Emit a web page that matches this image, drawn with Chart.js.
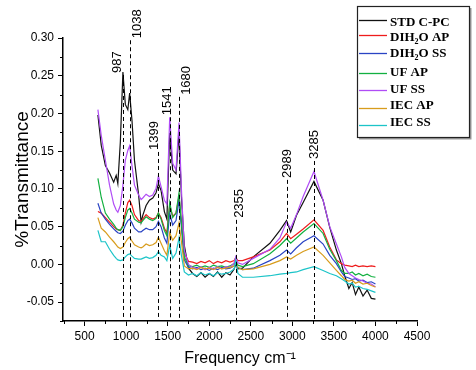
<!DOCTYPE html>
<html>
<head>
<meta charset="utf-8">
<script src="https://cdn.jsdelivr.net/npm/chart.js@4.4.1/dist/chart.umd.min.js"></script>
<style>
    html, body { margin: 0; padding: 0; background: #ffffff; }
    #wrap { width: 476px; height: 370px; }
</style>
</head>
<body>
<div id="wrap"><canvas id="ftirChart" width="476" height="370"></canvas></div>
<script>
// Wavenumber grid (cm-1), shared by every spectrum
const wavenumbers = [660, 700, 750, 800, 850, 880, 900, 930, 961, 990,
    1020, 1042, 1070, 1100, 1150, 1180, 1200, 1240, 1280, 1320,
    1360, 1388, 1420, 1460, 1490, 1524, 1560, 1600, 1636, 1665,
    1700, 1750, 1800, 1850, 1900, 1950, 2000, 2050, 2100, 2150,
    2200, 2250, 2300, 2319, 2345, 2400, 2530, 2730, 2850, 2930,
    2980, 3050, 3130, 3260, 3370, 3450, 3530, 3590, 3630, 3680,
    3720, 3760, 3800, 3850, 3900, 3950, 4000];

// %Transmittance
const stdCPC = [0.198, 0.158, 0.131, 0.121, 0.109, 0.118, 0.107, 0.162, 0.255, 0.212,
    0.205, 0.227, 0.191, 0.138, 0.092, 0.056, 0.065, 0.078, 0.085, 0.088,
    0.095, 0.107, 0.098, 0.070, 0.060, 0.174, 0.125, 0.120, 0.174, 0.090,
    0.025, -0.005, -0.012, -0.016, -0.011, -0.017, -0.012, -0.016, -0.010, -0.017,
    -0.011, -0.014, -0.006, 0.000, -0.006, -0.005, 0.010, 0.028, 0.045, 0.058,
    0.043, 0.065, 0.082, 0.110, 0.085, 0.049, 0.019, 0.001, -0.015, -0.032,
    -0.024, -0.040, -0.030, -0.042, -0.034, -0.045, -0.046];

const dih2oAP = [0.070, 0.068, 0.062, 0.056, 0.050, 0.047, 0.046, 0.045, 0.052, 0.068,
    0.082, 0.085, 0.078, 0.066, 0.058, 0.057, 0.060, 0.066, 0.062, 0.060,
    0.062, 0.068, 0.062, 0.048, 0.042, 0.078, 0.064, 0.068, 0.090, 0.055,
    0.015, 0.004, 0.003, 0.001, 0.004, 0.002, 0.005, 0.001, 0.004, 0.002,
    0.005, 0.003, 0.005, 0.009, 0.005, 0.005, 0.010, 0.019, 0.030, 0.041,
    0.034, 0.040, 0.047, 0.059, 0.045, 0.023, 0.006, 0.001, -0.001, -0.002,
    -0.003, -0.001, -0.003, -0.002, -0.003, -0.002, -0.003];

const dih2oSS = [0.081, 0.068, 0.060, 0.053, 0.047, 0.044, 0.042, 0.041, 0.044, 0.052,
    0.058, 0.060, 0.055, 0.048, 0.043, 0.043, 0.045, 0.048, 0.046, 0.046,
    0.050, 0.057, 0.050, 0.035, 0.028, 0.068, 0.052, 0.058, 0.085, 0.050,
    0.006, -0.004, -0.006, -0.004, -0.007, -0.005, -0.008, -0.005, -0.007, -0.004,
    -0.006, -0.005, -0.002, 0.003, -0.004, -0.007, -0.005, 0.005, 0.012, 0.019,
    0.014, 0.022, 0.030, 0.038, 0.027, 0.012, 0.001, -0.010, -0.016, -0.018,
    -0.020, -0.019, -0.022, -0.021, -0.024, -0.023, -0.026];

const ufAP = [0.114, 0.089, 0.068, 0.060, 0.053, 0.048, 0.046, 0.045, 0.050, 0.062,
    0.072, 0.074, 0.068, 0.060, 0.056, 0.055, 0.058, 0.063, 0.060, 0.058,
    0.061, 0.068, 0.060, 0.045, 0.038, 0.082, 0.062, 0.068, 0.095, 0.055,
    0.010, -0.002, -0.003, -0.001, -0.004, -0.002, -0.004, -0.001, -0.003, -0.002,
    -0.004, -0.002, 0.001, 0.005, -0.001, -0.003, 0.001, 0.014, 0.025, 0.034,
    0.028, 0.035, 0.043, 0.054, 0.041, 0.020, 0.005, -0.008, -0.012, -0.012,
    -0.010, -0.014, -0.012, -0.015, -0.013, -0.016, -0.017];

const ufSS = [0.205, 0.171, 0.138, 0.105, 0.080, 0.072, 0.069, 0.078, 0.105, 0.138,
    0.151, 0.157, 0.131, 0.105, 0.092, 0.086, 0.088, 0.093, 0.090, 0.092,
    0.101, 0.117, 0.103, 0.085, 0.080, 0.195, 0.134, 0.125, 0.188, 0.100,
    0.019, 0.000, -0.004, -0.006, -0.003, -0.007, -0.004, -0.006, -0.003, -0.006,
    -0.003, -0.004, 0.002, 0.010, 0.002, 0.000, 0.008, 0.020, 0.035, 0.056,
    0.048, 0.066, 0.090, 0.123, 0.085, 0.050, 0.027, 0.010, -0.004, -0.012,
    -0.015, -0.018, -0.020, -0.022, -0.025, -0.026, -0.030];

const iecAP = [0.062, 0.048, 0.043, 0.036, 0.030, 0.026, 0.023, 0.021, 0.023, 0.029,
    0.034, 0.036, 0.031, 0.026, 0.023, 0.022, 0.023, 0.027, 0.025, 0.026,
    0.029, 0.036, 0.028, 0.018, 0.012, 0.042, 0.032, 0.038, 0.055, 0.030,
    -0.002, -0.006, -0.005, -0.007, -0.004, -0.006, -0.005, -0.007, -0.004, -0.006,
    -0.005, -0.004, -0.002, 0.002, -0.004, -0.007, -0.006, 0.000, 0.005, 0.010,
    0.007, 0.012, 0.017, 0.023, 0.012, 0.002, -0.008, -0.015, -0.020, -0.022,
    -0.021, -0.025, -0.023, -0.026, -0.025, -0.028, -0.030];

const iecSS = [0.045, 0.030, 0.030, 0.020, 0.012, 0.008, 0.006, 0.005, 0.006, 0.010,
    0.013, 0.014, 0.011, 0.008, 0.007, 0.007, 0.008, 0.010, 0.008, 0.009,
    0.012, 0.017, 0.012, 0.010, 0.005, 0.025, 0.008, 0.015, 0.035, 0.012,
    -0.010, -0.014, -0.012, -0.015, -0.011, -0.014, -0.012, -0.015, -0.011, -0.013,
    -0.012, -0.010, -0.006, 0.005, -0.012, -0.017, -0.017, -0.015, -0.013, -0.012,
    -0.011, -0.010, -0.007, -0.003, -0.008, -0.012, -0.015, -0.019, -0.022, -0.026,
    -0.025, -0.030, -0.029, -0.032, -0.033, -0.035, -0.037];

const seriesNames = ["STD C-PC", "DIH₂O AP", "DIH₂O SS", "UF AP", "UF SS", "IEC AP", "IEC SS"];
const seriesValues = [stdCPC, dih2oAP, dih2oSS, ufAP, ufSS, iecAP, iecSS];
const seriesColors = ["#111111", "#ee1c1c", "#2a44c4", "#12b040", "#b04cf6", "#d89c1c", "#1cc4c8"];

// Peak markers (label text, where the dashed line sits, where it stops)
const peakLabels = ["987", "1038", "1399", "1541", "1680", "2355", "2989", "3285"];
const peakPositions = [962, 1042, 1388, 1524, 1636, 2319, 2930, 3260];
const peakTops = [0.251, 0.297, 0.149, 0.195, 0.222, 0.059, 0.112, 0.137];

const xTicks = [500, 1000, 1500, 2000, 2500, 3000, 3500, 4000, 4500];
const yTicks = [-0.05, 0.00, 0.05, 0.10, 0.15, 0.20, 0.25, 0.30];

const FONT = "'Liberation Sans', Arial, sans-serif";

// dashed peak lines + rotated labels
const peakPlugin = {
    id: "peakMarkers",
    afterDatasetsDraw(chart, args, opts) {
        const ctx = chart.ctx;
        const xs = chart.scales.x, ys = chart.scales.y;
        ctx.save();
        peakPositions.forEach((pos, i) => {
            let px = Math.round(xs.getPixelForValue(pos)) + 0.5;
            let top = ys.getPixelForValue(peakTops[i]);
            ctx.strokeStyle = "#000";
            ctx.lineWidth = 1;
            ctx.setLineDash([4, 3]);
            ctx.beginPath();
            ctx.moveTo(px, top);
            ctx.lineTo(px, chart.chartArea.bottom);
            ctx.stroke();
            ctx.setLineDash([]);

            ctx.save();
            ctx.translate(px + opts.offsets[i], top - 2);
            ctx.rotate(-Math.PI / 2);
            ctx.fillStyle = "#000";
            ctx.font = "13px " + FONT;
            ctx.textAlign = "left";
            ctx.textBaseline = "middle";
            ctx.fillText(peakLabels[i], 0, 0);
            ctx.restore();
        });
        ctx.restore();
    }
};

// minor ticks like Origin
const minorTickPlugin = {
    id: "minorTicks",
    afterDraw(chart) {
        const ctx = chart.ctx;
        const xs = chart.scales.x, ys = chart.scales.y;
        const area = chart.chartArea;
        ctx.save();
        ctx.strokeStyle = "#000";
        ctx.lineWidth = 1;
        ctx.beginPath();
        for (let i = 0; i < yTicks.length; i++) {
            let v = yTicks[i] - 0.025;
            if (v < ys.min - 1e-9) continue;
            let py = Math.round(ys.getPixelForValue(v)) + 0.5;
            ctx.moveTo(area.left, py);
            ctx.lineTo(area.left - 3, py);
        }
        for (let i = 0; i < xTicks.length; i++) {
            let v = xTicks[i] - 250;
            if (v < xs.min) continue;
            let px = Math.round(xs.getPixelForValue(v)) + 0.5;
            ctx.moveTo(px, area.bottom);
            ctx.lineTo(px, area.bottom + 3);
        }
        ctx.stroke();
        ctx.restore();
    }
};

// boxed legend in the top right corner
function drawSubText(ctx, text, x, y, size) {
    // draws "₂" as a smaller lowered 2
    let parts = text.split("₂");
    parts.forEach((p, k) => {
        ctx.font = "bold " + size + "px 'Liberation Serif', 'Times New Roman', serif";
        ctx.fillText(p, x, y);
        x += ctx.measureText(p).width;
        if (k < parts.length - 1) {
            ctx.font = "bold " + Math.round(size * 0.65) + "px 'Liberation Serif', 'Times New Roman', serif";
            ctx.fillText("2", x, y + 3);
            x += ctx.measureText("2").width;
        }
    });
}

const legendPlugin = {
    id: "boxLegend",
    afterDraw(chart, args, opts) {
        const ctx = chart.ctx;
        const b = opts.box;
        ctx.save();
        ctx.fillStyle = "#fff";
        ctx.fillRect(b.x, b.y, b.w, b.h);
        ctx.strokeStyle = "#999";
        ctx.lineWidth = 2;
        ctx.beginPath();
        ctx.moveTo(b.x + b.w + 1.5, b.y + 2);
        ctx.lineTo(b.x + b.w + 1.5, b.y + b.h + 1.5);
        ctx.lineTo(b.x + 2, b.y + b.h + 1.5);
        ctx.stroke();
        ctx.strokeStyle = "#222";
        ctx.lineWidth = 1.2;
        ctx.strokeRect(b.x + 0.5, b.y + 0.5, b.w, b.h);

        seriesNames.forEach((name, i) => {
            ctx.strokeStyle = seriesColors[i];
            ctx.lineWidth = 1.3;
            ctx.beginPath();
            ctx.moveTo(b.x + 2, opts.lineY[i] + 0.5);
            ctx.lineTo(b.x + 30, opts.lineY[i] + 0.5);
            ctx.stroke();
            ctx.fillStyle = "#000";
            ctx.textBaseline = "alphabetic";
            ctx.textAlign = "left";
            drawSubText(ctx, name, b.x + 33, opts.textY[i], 13);
        });
        ctx.restore();
    }
};

const datasets = seriesNames.map((name, i) => ({
    label: name,
    data: wavenumbers.map((w, j) => ({ x: w, y: seriesValues[i][j] })),
    borderColor: seriesColors[i],
    borderWidth: 1.2,
    pointRadius: 0,
    tension: 0,
    fill: false,
    order: seriesNames.length - i
}));

new Chart(document.getElementById("ftirChart").getContext("2d"), {
    type: "line",
    data: { datasets: datasets },
    plugins: [peakPlugin, minorTickPlugin, legendPlugin],
    options: {
        responsive: false,
        animation: false,
        layout: { padding: { top: 38, right: 59, left: 0, bottom: 0 } },
        plugins: {
            legend: { display: false },
            tooltip: { enabled: false },
            peakMarkers: { offsets: [-6, 7, -4, -3, 7, 3, 0, 0] },
            boxLegend: {
                box: { x: 357, y: 6, w: 112, h: 131 },
                lineY: [20, 35, 53, 73, 90, 108, 125],
                textY: [26, 41, 57, 76, 93, 109, 126]
            }
        },
        scales: {
            x: {
                type: "linear",
                min: 240,
                max: 4500,
                afterBuildTicks: s => { s.ticks = xTicks.map(v => ({ value: v })); },
                afterFit: s => { s.height = 49; },
                border: { display: true, color: "#000", width: 1.5 },
                grid: { drawOnChartArea: false, drawTicks: true, tickLength: 5, color: "#000" },
                ticks: {
                    color: "#000",
                    font: { family: FONT, size: 12 },
                    padding: 3,
                    maxRotation: 0,
                    autoSkip: false,
                    callback: v => String(v)
                },
                title: {
                    display: true,
                    text: "Frequency cm⁻¹",
                    color: "#000",
                    font: { family: FONT, size: 16 },
                    padding: { top: 0, bottom: 2 }
                }
            },
            y: {
                type: "linear",
                min: -0.075,
                max: 0.30,
                afterBuildTicks: s => { s.ticks = yTicks.map(v => ({ value: v })); },
                afterFit: s => { s.width = 63; },
                border: { display: true, color: "#000", width: 1.5 },
                grid: { drawOnChartArea: false, drawTicks: true, tickLength: 5, color: "#000" },
                ticks: {
                    color: "#000",
                    font: { family: FONT, size: 12 },
                    padding: 4,
                    callback: v => v.toFixed(2)
                },
                title: {
                    display: true,
                    text: "%Transmittance",
                    color: "#000",
                    font: { family: FONT, size: 19 },
                    padding: { top: 11, bottom: 0 }
                }
            }
        }
    }
});
</script>
</body>
</html>
